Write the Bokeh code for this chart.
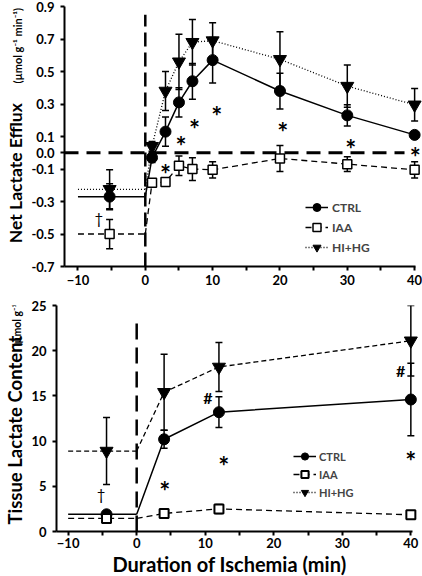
import numpy as np
from bokeh.plotting import figure
from bokeh.layouts import column, row
from bokeh.models import (ColumnDataSource, Whisker, TeeHead, Legend,
                          LegendItem, FixedTicker, PrintfTickFormatter, Range1d)
from bokeh.embed import file_html
from bokeh.resources import INLINE
from bokeh.core.properties import value

FONT = "Lato"

# ---------------- data: net lactate efflux (top panel) ----------------
efflux_time = [1, 3, 5, 7, 10, 20, 30, 40]
efflux_ctrl = [-0.03, 0.13, 0.31, 0.44, 0.57, 0.38, 0.23, 0.11]
efflux_ctrl_err = [0.03, 0.09, 0.09, 0.11, 0.14, 0.11, 0.065, 0.02]
efflux_iaa = [-0.185, -0.18, -0.08, -0.10, -0.105, -0.035, -0.07, -0.105]
efflux_iaa_err = [0.02, 0.02, 0.06, 0.07, 0.05, 0.08, 0.045, 0.05]
efflux_hihg = [0.04, 0.38, 0.56, 0.68, 0.69, 0.575, 0.41, 0.295]
efflux_hihg_err = [0.03, 0.12, 0.17, 0.14, 0.11, 0.17, 0.13, 0.10]
efflux_pre_time = -5.3
efflux_pre_ctrl, efflux_pre_ctrl_err = -0.27, 0.08
efflux_pre_iaa, efflux_pre_iaa_err = -0.50, 0.09
efflux_pre_hihg, efflux_pre_hihg_err = -0.225, 0.12
efflux_star_x = [3.0, 5.3, 7.3, 10.6, 20.4, 30.5, 40.1]
efflux_star_y = [-0.09, 0.086, 0.187, 0.27, 0.17, 0.065, 0.015]
efflux_dagger_x = [-6.9]
efflux_dagger_y = [-0.40]
efflux_yticks = [-0.7, -0.5, -0.3, -0.1, 0.0, 0.1, 0.3, 0.5, 0.7, 0.9]
efflux_range = (-0.7, 0.9)
efflux_onset_top = 0.85

# ---------------- data: tissue lactate content (bottom panel) ----------------
tissue_time = [4, 12, 40]
tissue_ctrl = [10.2, 13.2, 14.6]
tissue_ctrl_err = [1.0, 1.7, 4.0]
tissue_iaa = [2.0, 2.5, 1.85]
tissue_iaa_err = [0.4, 0.5, 0.3]
tissue_hihg = [15.4, 18.2, 21.1]
tissue_hihg_err = [4.2, 2.7, 3.9]
tissue_pre_time = -4.4
tissue_pre_ctrl, tissue_pre_ctrl_err = 1.9, 0.3
tissue_pre_iaa, tissue_pre_iaa_err = 1.45, 0.3
tissue_pre_hihg, tissue_pre_hihg_err = 8.9, 3.7
tissue_star_x = [4.1, 12.7, 40.0]
tissue_star_y = [5.3, 8.0, 8.6]
tissue_hash_x = [10.4, 38.5]
tissue_hash_y = [14.8, 17.8]
tissue_dagger_x = [-5.2]
tissue_dagger_y = [4.1]
tissue_yticks = [0, 5, 10, 15, 20, 25]
tissue_range = (0, 25)
tissue_onset_top = 23.4

time_ticks = [-10, 0, 10, 20, 30, 40]
time_minor = [-5, 5, 15, 25, 35]
pre_window = [-10, 0]

TOTAL_W = 422
TITLE_W = 28
W = TOTAL_W - TITLE_W
XTITLE_H = 26


def make_panel(height, b_left, b_top, b_bottom, xr, yr, yticks, fmt):
    p = figure(width=W, height=height, output_backend="svg", toolbar_location=None,
               x_range=Range1d(*xr), y_range=Range1d(*yr),
               min_border_left=b_left, min_border_right=0,
               min_border_top=b_top, min_border_bottom=b_bottom)
    p.outline_line_color = None
    p.grid.visible = False
    xa = p.xaxis[0]
    xa.ticker = FixedTicker(ticks=time_ticks, minor_ticks=time_minor)
    xa.bounds = (xr[0], 40.2)
    ya = p.yaxis[0]
    ya.ticker = FixedTicker(ticks=yticks, minor_ticks=[])
    ya.formatter = PrintfTickFormatter(format=fmt)
    for ax in (xa, ya):
        ax.axis_line_width = 2
        ax.major_tick_line_width = 2
        ax.minor_tick_line_width = 2
        ax.major_tick_in = 0
        ax.major_tick_out = 4
        ax.minor_tick_in = 0
        ax.minor_tick_out = 4
        ax.major_label_text_font = FONT
        ax.major_label_text_font_style = "bold"
        ax.major_label_text_font_size = "13px"
        ax.major_label_text_color = "black"
    xa.major_label_standoff = 4
    ya.major_label_standoff = 6
    ya.minor_tick_line_color = None
    return p


def blank(width, height):
    t = figure(width=width, height=height, output_backend="svg", toolbar_location=None,
               x_range=Range1d(0, width), y_range=Range1d(0, height),
               x_axis_location=None, y_axis_location=None, min_border=0)
    t.outline_line_color = None
    t.grid.visible = False
    return t


def title_strip(height, pieces):
    t = blank(TITLE_W, height)
    for (xc, ys, s, size, xoff) in pieces:
        t.text(x=[xc], y=[ys], text=[s], angle=np.pi / 2, text_align="left",
               text_baseline="middle", text_font=value(FONT), text_font_style="bold",
               text_font_size=size, text_color="black", x_offset=xoff)
    return t


def draw_series(p, time, vals, errs, pre_t, pre_v, pre_e, dash, lw, pre_dash,
                marker, size, fill, mlw):
    p.line(pre_window, [pre_v, pre_v], line_color="black", line_width=lw, line_dash=pre_dash)
    r_line = p.line([pre_window[1]] + time, [pre_v] + vals, line_color="black",
                    line_width=lw, line_dash=dash)
    xs = [pre_t] + time
    ys = np.array([pre_v] + vals)
    es = np.array([pre_e] + errs)
    src = ColumnDataSource(dict(x=xs, y=ys, lo=ys - es, hi=ys + es))
    w = Whisker(source=src, base="x", lower="lo", upper="hi", line_width=1.5,
                line_color="black", level="underlay",
                lower_head=TeeHead(size=7, line_width=1.5, line_color="black"),
                upper_head=TeeHead(size=7, line_width=1.5, line_color="black"))
    p.add_layout(w)
    r_pts = p.scatter("x", "y", source=src, marker=marker, size=size, fill_color=fill,
                      line_color="black", line_width=mlw)
    return r_line, r_pts


def txt(p, xs, ys, s, size, style="bold", yoff=0):
    p.text(x=xs, y=ys, text=[s] * len(xs), text_font=value(FONT), text_font_style=style,
           text_font_size=size, text_align="center", text_baseline="middle",
           text_color="black", y_offset=yoff)


# ======================= top panel =======================
top = make_panel(290, 57 - TITLE_W, 6, 24, (-12, 41.17), efflux_range, efflux_yticks, "%.1f")
top.line([0, 0], [efflux_range[0], efflux_onset_top], line_color="black", line_width=2.5,
         line_dash="14 6")
top.line([-12, 38.5], [0, 0], line_color="black", line_width=3, line_dash="14 8")

c_l, c_p = draw_series(top, efflux_time, efflux_ctrl, efflux_ctrl_err, efflux_pre_time,
                       efflux_pre_ctrl, efflux_pre_ctrl_err, "solid", 1.5, "solid",
                       "circle", 11, "black", 1)
i_l, i_p = draw_series(top, efflux_time, efflux_iaa, efflux_iaa_err, efflux_pre_time,
                       efflux_pre_iaa, efflux_pre_iaa_err, "6 4", 1.3, "6 4",
                       "square", 9, "white", 1.5)
h_l, h_p = draw_series(top, efflux_time, efflux_hihg, efflux_hihg_err, efflux_pre_time,
                       efflux_pre_hihg, efflux_pre_hihg_err, "1 2", 1.3, "1 2",
                       "inverted_triangle", 13, "black", 1)
txt(top, efflux_star_x, efflux_star_y, "*", "26px", yoff=7)
txt(top, efflux_dagger_x, efflux_dagger_y, "\u2020", "15px", style="normal")

top.add_layout(Legend(items=[LegendItem(label="CTRL", renderers=[c_l, c_p]),
                             LegendItem(label="IAA", renderers=[i_l, i_p]),
                             LegendItem(label="HI+HG", renderers=[h_l, h_p])],
                      location=(241, 9), border_line_color=None, background_fill_alpha=0,
                      padding=0, margin=0, spacing=0, glyph_width=23, glyph_height=20,
                      label_height=20, label_standoff=4, label_text_font=FONT,
                      label_text_font_style="bold", label_text_font_size="12px"))
top_titles = title_strip(290, [(15, 26, "Net Lactate Efflux", "17.5px", 0),
                               (15, 204, "(\u00b5mol g\u207b\u00b9 min\u207b\u00b9)", "11px", 2)])

# ======================= bottom panel =======================
BOT_H = 286 - XTITLE_H
bot = make_panel(BOT_H, 55 - TITLE_W, 15, 19, (-11.7, 41.7), tissue_range, tissue_yticks, "%d")
bot.xaxis[0].major_label_standoff = 2
bot.line([0, 0], [tissue_range[0], tissue_onset_top], line_color="black", line_width=2.5,
         line_dash="16 8")
bc_l, bc_p = draw_series(bot, tissue_time, tissue_ctrl, tissue_ctrl_err, tissue_pre_time,
                         tissue_pre_ctrl, tissue_pre_ctrl_err, "solid", 1.5, "solid",
                         "circle", 11, "black", 1)
bi_l, bi_p = draw_series(bot, tissue_time, tissue_iaa, tissue_iaa_err, tissue_pre_time,
                         tissue_pre_iaa, tissue_pre_iaa_err, "6 4", 1.3, "6 4",
                         "square", 9, "white", 2)
bh_l, bh_p = draw_series(bot, tissue_time, tissue_hihg, tissue_hihg_err, tissue_pre_time,
                         tissue_pre_hihg, tissue_pre_hihg_err, "5 3", 1.3, "5 3",
                         "inverted_triangle", 13, "black", 1)
bh_proxy = bot.line([np.nan], [np.nan], line_color="black", line_width=1.3, line_dash="1 2")
txt(bot, tissue_star_x, tissue_star_y, "*", "26px", yoff=7)
txt(bot, tissue_hash_x, tissue_hash_y, "#", "16px")
txt(bot, tissue_dagger_x, tissue_dagger_y, "\u2020", "15px", style="normal")

bot.add_layout(Legend(items=[LegendItem(label="CTRL", renderers=[bc_l, bc_p]),
                             LegendItem(label="IAA", renderers=[bi_l, bi_p]),
                             LegendItem(label="HI+HG", renderers=[bh_proxy, bh_p])],
                      location=(237, 30), border_line_color=None, background_fill_alpha=0,
                      padding=0, margin=0, spacing=0, glyph_width=23, glyph_height=18,
                      label_height=18, label_standoff=3, label_text_font=FONT,
                      label_text_font_style="bold", label_text_font_size="11px"))
bot_titles = title_strip(BOT_H, [(14, 8, "Tissue Lactate Content", "18.5px", 0),
                                 (14, 213, "(\u00b5mol g\u207b\u00b9)", "10.5px", 2)])

xtitle = blank(TOTAL_W, XTITLE_H)
xtitle.text(x=[229], y=[13], text=["Duration of Ischemia (min)"], text_align="center",
            text_baseline="middle", text_font=value(FONT), text_font_style="bold",
            text_font_size="20px", text_color="black")

layout = column(row(top_titles, top, spacing=0), row(bot_titles, bot, spacing=0), xtitle,
                spacing=0)
open("out.html", "w").write(file_html(layout, INLINE))
